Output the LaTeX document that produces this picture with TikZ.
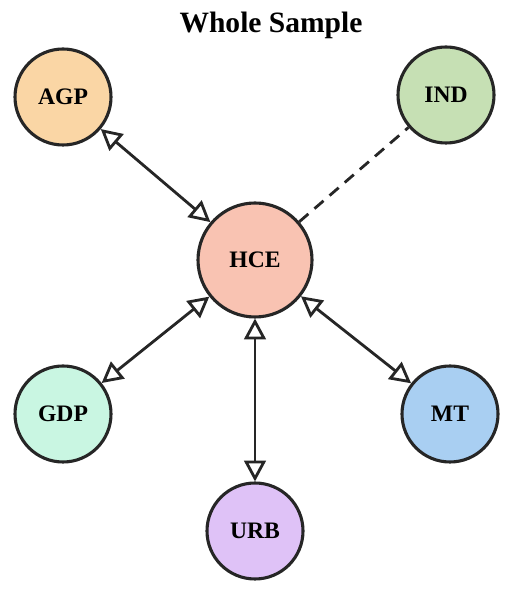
\documentclass[tikz,border=0pt]{standalone}
\usepackage{fontspec}
\setmainfont{Liberation Serif}
\usetikzlibrary{arrows.meta,positioning}
\definecolor{cAgp}{HTML}{FAD6A5}
\definecolor{cInd}{HTML}{C6E0B4}
\definecolor{cHce}{HTML}{F9C3B2}
\definecolor{cGdp}{HTML}{C9F6E2}
\definecolor{cMt}{HTML}{A9CFF2}
\definecolor{cUrb}{HTML}{DFC2F7}
\definecolor{cLine}{HTML}{262626}
\tikzset{
  var/.style={circle,draw=cLine,line width=2.2pt,inner sep=0pt,minimum size=2.4cm,font=\fontsize{16.8}{18}\selectfont\bfseries},
  core/.style={var,minimum size=2.85cm},
  lnk/.style={{Triangle[open,length=5.2mm,width=5.4mm]}-{Triangle[open,length=5.2mm,width=5.4mm]},line width=2pt,cLine},
  dep/.style={line width=2pt,cLine,dash pattern=on 3mm off 2mm},
  ttl/.style={font=\fontsize{21}{24}\selectfont\bfseries},
}

\begin{document}
\begin{tikzpicture}
  \useasboundingbox (0,0) rectangle (12.75,14.775);
  \node[ttl] (title) at (6.775,14.15) {Whole Sample};
  % centre node
  \node[core,fill=cHce] (hce) at (6.375,8.275) {HCE};
  % outer variables
  \node[var,fill=cAgp] (agp) at (1.575,12.35) {AGP};
  \node[var,fill=cInd] (ind) at (11.15,12.4) {IND};
  \node[var,fill=cGdp] (gdp) at (1.575,4.425) {GDP};
  \node[var,fill=cMt] (mt) at (11.25,4.425) {MT};
  \node[var,fill=cUrb] (urb) at (6.375,1.5) {URB};
  % links
  \draw[lnk] (agp)--(hce);
  \draw[lnk] (hce)--(gdp);
  \draw[lnk] (hce)--(urb);
  \draw[lnk] (hce)--(mt);
  \draw[dep] (hce)--(ind);
\end{tikzpicture}
\end{document}
